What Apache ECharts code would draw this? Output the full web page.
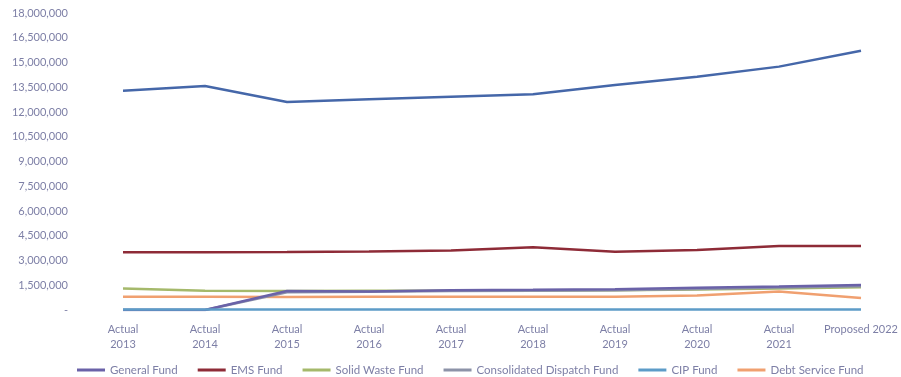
<!DOCTYPE html>
<html>
<head>
<meta charset="utf-8">
<script src="https://cdn.jsdelivr.net/npm/echarts@6/dist/echarts.min.js"></script>
<style>html,body{margin:0;padding:0;background:#fff}#c{width:901px;height:377px}</style>
</head>
<body>
<div id="c"></div>
<script>
const categories = ["Actual\n2013","Actual\n2014","Actual\n2015","Actual\n2016","Actual\n2017","Actual\n2018","Actual\n2019","Actual\n2020","Actual\n2021","Proposed 2022"];
const totalFund = [13290000,13580000,12600000,12770000,12930000,13070000,13640000,14140000,14750000,15710000];
const generalFund = [0,0,1150000,1120000,1200000,1220000,1260000,1350000,1420000,1520000];
const emsFund = [3500000,3500000,3520000,3550000,3600000,3800000,3530000,3640000,3880000,3880000];
const solidWasteFund = [1310000,1170000,1150000,1170000,1160000,1180000,1200000,1240000,1300000,1380000];
const dispatchFund = [0,0,1080000,1100000,1150000,1170000,1200000,1280000,1360000,1440000];
const cipFund = [30000,30000,30000,30000,30000,30000,30000,30000,30000,30000];
const debtServiceFund = [810000,800000,790000,800000,810000,800000,810000,880000,1120000,720000];

const seriesNames = ["General Fund","EMS Fund","Solid Waste Fund","Consolidated Dispatch Fund","CIP Fund","Debt Service Fund"];
const colors = {
  "Total": "#4567a9",
  "General Fund": "#6a62a8",
  "EMS Fund": "#8e2b37",
  "Solid Waste Fund": "#a5b96b",
  "Consolidated Dispatch Fund": "#8d93a8",
  "CIP Fund": "#5d9cc8",
  "Debt Service Fund": "#f0a070"
};
function mk(name, data, z) {
  return {name:name, type:'line', data:data, symbol:'none', z:z,
    lineStyle:{width:2.5, color:colors[name]}, itemStyle:{color:colors[name]}};
}
const chart = echarts.init(document.getElementById('c'));
chart.setOption({
  animation:false,
  backgroundColor:'#fff',
  textStyle:{fontFamily:'Lato'},
  grid:{left:123, right:36, top:13, bottom:67},
  legend:{
    data:seriesNames, left:72, top:359, icon:'rect', itemWidth:28, itemHeight:3, itemGap:20,
    textStyle:{color:'#7d7fa6', fontSize:11.5, fontFamily:'Lato'}
  },
  xAxis:{type:'category', data:categories, boundaryGap:false,
    axisLine:{show:false}, axisTick:{show:false},
    axisLabel:{color:'#7d7fa6', fontSize:11, fontFamily:'Lato', margin:12, lineHeight:15, interval:0}},
  yAxis:{type:'value', min:0, max:18000000, interval:1500000,
    axisLine:{show:false}, axisTick:{show:false}, splitLine:{show:false},
    axisLabel:{color:'#7d7fa6', fontSize:11, fontFamily:'Lato', margin:55,
      formatter:function(v){return v===0?'-':v.toLocaleString('en-US');}}},
  series:[
    mk("Total", totalFund, 7),
    mk("Debt Service Fund", debtServiceFund, 3),
    mk("Solid Waste Fund", solidWasteFund, 4),
    mk("Consolidated Dispatch Fund", dispatchFund, 5),
    mk("General Fund", generalFund, 6),
    mk("CIP Fund", cipFund, 7),
    mk("EMS Fund", emsFund, 6)
  ]
});
</script>
</body>
</html>
